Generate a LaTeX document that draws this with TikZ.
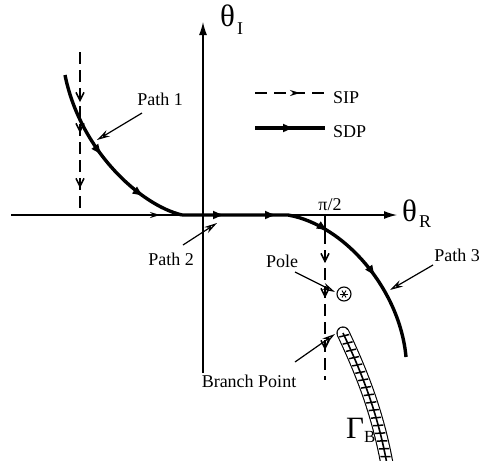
\documentclass[tikz,border=0pt]{standalone}
\usepackage{fontspec}
\setmainfont{Liberation Serif}
\usetikzlibrary{arrows.meta,decorations.markings}
\begin{document}
\begin{tikzpicture}[x=1pt,y=-1pt,
  lbl/.style={font=\fontsize{18}{20}\selectfont, inner sep=0pt},
  axisline/.style={line width=1.2pt},
  sdpline/.style={line width=3.4pt, line join=round},
  sipline/.style={line width=1.5pt, dash pattern=on 12pt off 6pt},
  callout/.style={line width=1.2pt, -{Stealth[open,length=13pt,width=7pt]}},
  decoration={markings}
]
\useasboundingbox (0,0) rectangle (488,464);

% axes
\coordinate (xstart) at (11,215);
\coordinate (xend) at (397,215);
\coordinate (ystart) at (203,373);
\coordinate (yend) at (203,22);
\draw[axisline,-{Latex[length=13pt,width=8pt]}] (xstart) -- (xend);
\draw[axisline,-{Latex[length=13pt,width=8pt]}] (ystart) -- (yend);
\node[anchor=base west, inner sep=0pt] (thI) at (220,26)
  {\fontsize{31}{33}\selectfont θ\kern2pt\fontsize{18}{20}\selectfont\raisebox{-8pt}{I}};
\node[anchor=base west, inner sep=0pt] (thR) at (402,221)
  {\fontsize{31}{33}\selectfont θ\kern2pt\fontsize{18}{20}\selectfont\raisebox{-6pt}{R}};

% SDP path (paths 1, 2, 3)
\coordinate (p1a) at (65,75);
\coordinate (p1b) at (182,215);
\coordinate (p2b) at (288,215);
\coordinate (p3b) at (406,357);
\draw[sdpline, postaction={decorate}, decoration={markings,
   mark=at position 0.47 with {\arrow{Latex[length=12pt,width=9pt]}},
   mark=at position 0.78 with {\arrow{Latex[length=12pt,width=9pt]}}}]
  (p1a) .. controls (80,150) and (140,205) .. (p1b);
\draw[sdpline, postaction={decorate}, decoration={markings,
   mark=at position 43pt with {\arrow{Latex[length=12pt,width=9pt]}},
   mark=at position 95pt with {\arrow{Latex[length=12pt,width=9pt]}},
   mark=at position 150pt with {\arrow{Latex[length=12pt,width=9pt]}},
   mark=at position 216pt with {\arrow{Latex[length=12pt,width=9pt]}}}]
  (p1b) -- (p2b) .. controls (345,225) and (400,290) .. (p3b);

% SIP left
\coordinate (s1a) at (80,52);
\coordinate (s1c) at (80,215);
\draw[sipline, postaction={decorate}, decoration={markings,
   mark=at position 50pt with {\arrow[solid]{Straight Barb[length=8pt,width=8pt]}},
   mark=at position 81pt with {\arrow[solid]{Straight Barb[length=8pt,width=8pt]}},
   mark=at position 136pt with {\arrow[solid]{Straight Barb[length=8pt,width=8pt]}},
   mark=at position 243pt with {\arrow[solid]{Stealth[open,length=10pt,width=6pt]}}}]
  (s1a) -- (s1c) -- (p1b);

% pi/2 tick and SIP right
\coordinate (t0) at (325,215);
\coordinate (t1) at (325,232);
\coordinate (t2) at (325,380);
\draw[axisline] (t0) -- (t1);
\draw[sipline, postaction={decorate}, decoration={markings,
   mark=at position 31pt with {\arrow[solid]{Straight Barb[length=8pt,width=8pt]}},
   mark=at position 66pt with {\arrow[solid]{Straight Barb[length=8pt,width=8pt]}},
   mark=at position 118pt with {\arrow[solid]{Straight Barb[length=8pt,width=8pt]}}}]
  (t1) -- (t2);
\node[lbl, anchor=base] (lpi) at (330,210) {π/2};

% legend
\node[lbl, anchor=base west] (sip) at (333,103) {SIP};
\node[lbl, anchor=base west] (sdp) at (333,137) {SDP};
\coordinate (l1a) at (255,93);
\coordinate (l1b) at (325,93);
\coordinate (l2a) at (255,128);
\coordinate (l2b) at (325,128);
\draw[sipline, dash pattern=on 12pt off 7pt, postaction={decorate}, decoration={markings,
   mark=at position 45pt with {\arrow[solid]{Stealth[open,length=10pt,width=6pt]}}}]
  (l1a) -- (l1b);
\draw[sdpline, postaction={decorate}, decoration={markings,
   mark=at position 40pt with {\arrow{Latex[length=12pt,width=9pt]}}}]
  (l2a) -- (l2b);

% pole
\node[circle, draw, line width=1.1pt, minimum size=14pt, inner sep=0pt] (pole) at (344,294) {};
\foreach \a in {0,60,120}
  \draw[line width=0.9pt] ([shift={(\a:4pt)}]pole.center) -- ([shift={(\a+180:4pt)}]pole.center);

% branch cut
\begin{scope}
\clip (0,0) rectangle (488,460);
\draw[line width=1.1pt, double=white, double distance=11pt, line cap=round]
  (343,333) .. controls (358,365) and (378,410) .. (388,470);
\draw[line width=1.6pt, postaction={decorate}, decoration={markings,
   mark=between positions 3pt and 1 step 8pt with {\draw[line width=1.5pt] (-1pt,-5pt) -- (1pt,5pt);}}]
  (343,333) .. controls (358,365) and (378,410) .. (388,470);
\end{scope}
\node[anchor=base west, inner sep=0pt] (gb) at (346,438)
  {\fontsize{31}{33}\selectfont Γ\fontsize{17}{19}\selectfont\raisebox{-4pt}{B}};

% labels and callouts
\node[lbl, anchor=base] (lp1) at (160,105) {Path 1};
\node[lbl, anchor=base] (lp2) at (171,265) {Path 2};
\node[lbl, anchor=base] (lpole) at (282,267) {Pole};
\node[lbl, anchor=base] (lp3) at (457,261) {Path 3};
\node[lbl, anchor=base] (lbp) at (249,387) {Branch Point};
\coordinate (c1a) at (142,113); \coordinate (c1b) at (97,140);
\coordinate (c2a) at (183,245); \coordinate (c2b) at (217,223);
\coordinate (c3a) at (295,272); \coordinate (c3b) at (335,292);
\coordinate (c4a) at (433,265); \coordinate (c4b) at (390,290);
\coordinate (c5a) at (295,362); \coordinate (c5b) at (335,334);
\draw[callout] (c1a) -- (c1b);
\draw[callout] (c2a) -- (c2b);
\draw[callout] (c3a) -- (c3b);
\draw[callout] (c4a) -- (c4b);
\draw[callout] (c5a) -- (c5b);
\end{tikzpicture}
\end{document}
